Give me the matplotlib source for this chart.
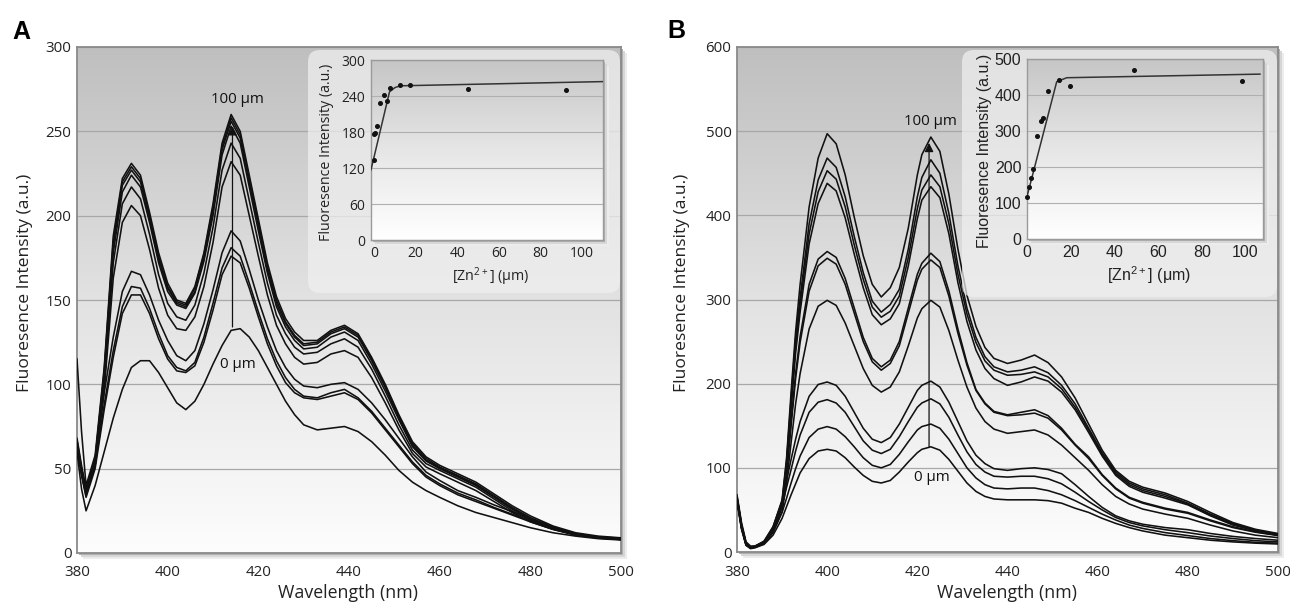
import numpy as np
import matplotlib
matplotlib.use("Agg")
import matplotlib.pyplot as plt
from matplotlib.colors import LinearSegmentedColormap
from matplotlib.patches import FancyBboxPatch, Rectangle

plt.rcParams['font.family'] = ['Open Sans', 'DejaVu Sans']
plt.rcParams['mathtext.fontset'] = 'custom'
plt.rcParams['mathtext.rm'] = 'Open Sans'
plt.rcParams['mathtext.default'] = 'regular'

# ---------------- Panel A data (emission spectra) ----------------
wl_A = [380, 381, 382, 384, 386, 388, 390, 392, 394, 396,
        398, 400, 402, 404, 406, 408, 410, 412, 414, 416,
        418, 420, 422, 424, 426, 428, 430, 433, 436, 439,
        442, 445, 448, 451, 454, 457, 460, 464, 468, 472,
        476, 480, 485, 490, 495, 500]
A_c0 = [60, 38, 25, 40, 60, 80, 97, 110, 114, 114, 107, 98, 89, 85, 90, 100, 112, 123, 132, 133,
        128, 120, 110, 100, 90, 82, 76, 73, 74, 75, 72, 66, 58, 49, 42, 37, 33, 28, 24, 21,
        18, 15, 12, 10, 8.5, 7.7]
A_c1 = [63, 46, 33, 50, 85, 116, 142, 153, 153, 142, 127, 115, 108, 107, 111, 125, 144, 165, 176, 172,
        157, 140, 124, 111, 101, 95, 92, 91, 93, 95, 91, 83, 73, 63, 53, 45, 40, 34.5, 30.5, 26.5,
        22.5, 18.5, 14, 10.8, 9, 8]
A_c2 = [64, 47, 34, 52, 88, 120, 146, 158, 157, 145, 130, 117, 110, 108, 113, 128, 148, 169, 181, 176,
        160, 143, 127, 114, 104, 97, 93, 92, 95, 97, 92, 84, 74, 64, 54, 46, 41, 35.5, 31.5, 27,
        23, 19, 14.2, 11, 9.2, 8.2]
A_c3 = [65, 50, 38, 55, 95, 128, 155, 167, 165, 153, 138, 126, 117, 114, 120, 136, 156, 178, 191, 185,
        168, 150, 134, 120, 110, 103, 99, 98, 100, 101, 97, 89, 79, 68, 57, 48, 43, 37, 33, 28.5,
        24.5, 20, 15, 11.5, 9.5, 8.5]
A_c4 = [64, 47, 35, 52, 96, 163, 196, 206, 200, 180, 157, 141, 133, 132, 140, 158, 184, 217, 232, 224,
        200, 176, 153, 135, 124, 116, 112, 113, 118, 120, 116, 104, 89, 73, 59, 51, 47, 42, 37, 30.5,
        24, 18.5, 14, 10.5, 8.8, 8]
A_c5 = [65, 48, 36, 53, 100, 172, 207, 217, 210, 189, 165, 148, 140, 138, 147, 166, 193, 227, 243, 234,
        209, 184, 160, 141, 130, 122, 118, 119, 124, 127, 122, 109, 93, 76, 61, 53, 49, 44, 39, 32,
        25, 19.5, 14.5, 10.8, 9, 8.3]
A_c6 = [66, 49, 36, 54, 104, 178, 214, 224, 217, 196, 172, 155, 147, 145, 154, 173, 200, 236, 253, 243,
        217, 191, 166, 146, 134, 126, 121, 122, 128, 131, 126, 112, 96, 79, 63, 54.5, 50, 45, 40, 33,
        26, 20, 14.8, 11, 9.2, 8.5]
A_c7 = [67, 50, 37, 55, 106, 182, 218, 227, 220, 198, 174, 157, 148, 146, 155, 175, 203, 239, 256, 246,
        220, 194, 168, 148, 136, 128, 123, 124, 130, 133, 128, 114, 98, 80, 64, 55, 50.5, 45.5, 40.5, 33.5,
        26.5, 20.5, 15, 11, 9.3, 8.6]
A_c8 = [68, 52, 38, 56, 108, 185, 220, 229, 222, 200, 176, 158, 149, 147, 157, 177, 205, 241, 258, 248,
        222, 196, 170, 150, 137, 129, 124, 125, 131, 134, 129, 115, 99, 81, 65, 56, 51, 46, 41, 34,
        27, 21, 15.5, 11.5, 9.5, 8.8]
A_c9 = [115, 72, 40, 58, 110, 188, 222, 231, 224, 202, 178, 160, 150, 148, 158, 178, 207, 243, 260, 250,
        224, 198, 172, 152, 139, 131, 126, 126, 132, 135, 130, 116, 100, 82, 66, 57, 52, 47, 42, 35,
        28, 22, 16, 12, 10, 9]

# Panel A inset (titration)
zn_A = [0, 0, 0.5, 1.3, 2.9, 4.8, 6.1, 7.7, 12.5, 17.3, 45, 92]
fi_A = [133, 177, 178, 190, 228, 242, 232, 254, 258, 258, 251, 250]
fitA_x = [-1.5, 7.4, 10, 12.5, 110]
fitA_y = [117, 247, 254, 257, 264]

# ---------------- Panel B data (emission spectra) ----------------
wl_B = [380, 381, 382, 383, 384, 386, 388, 390, 391, 392, 393, 394,
        396, 398, 400, 402, 404, 406, 408, 410, 412, 414, 416, 418, 420,
        421, 423, 425, 427, 429, 431, 433, 435, 437,
        440, 443, 446, 449, 452, 455, 458, 461, 464, 467, 470,
        475, 480, 485, 490, 495, 500]
B_c0 = [60, 27, 8, 4, 5, 9, 20, 40, 54, 68, 81, 94,
        111, 120, 122, 120, 112, 101, 91, 84, 82, 85, 95, 107, 118,
        122, 125, 121, 110, 96, 82, 72, 66, 63,
        62, 62, 62, 61, 58, 52, 47, 40, 34, 29, 25,
        20, 17, 14, 12, 10.5, 9.5]
B_c1 = [61, 28, 8, 4.5, 5.5, 10, 24, 47, 64, 82, 99, 114,
        136, 146, 149, 146, 137, 125, 112, 103, 100, 104, 116, 131, 145,
        149, 152, 147, 134, 117, 100, 88, 80, 76,
        75, 76, 76, 73, 68, 61, 53, 45, 38, 32, 28,
        23, 19.5, 16, 13.5, 11.5, 10.5]
B_c2 = [62, 29, 9, 5, 6, 11, 27, 55, 77, 98, 120, 139,
        166, 178, 181, 177, 166, 149, 132, 121, 117, 122, 137, 155, 172,
        177, 182, 176, 160, 139, 119, 104, 95, 90,
        89, 90, 90, 87, 81, 71, 60, 50, 41, 35, 31,
        26.5, 23, 19, 16, 13.5, 12]
B_c3 = [62, 29, 9, 5, 6, 12, 30, 60, 85, 110, 134, 155,
        185, 199, 202, 198, 185, 166, 147, 134, 130, 136, 152, 172, 192,
        198, 203, 196, 178, 155, 132, 115, 105, 99,
        97, 99, 100, 98, 93, 80, 66, 53, 43, 37, 33,
        29, 26.5, 22, 18.5, 16, 14]
B_c4 = [63, 30, 9, 5, 6, 10, 23, 48, 82, 130, 176, 212,
        265, 292, 299, 293, 272, 245, 218, 198, 190, 196, 214, 245, 278,
        289, 299, 291, 263, 228, 196, 171, 155, 146,
        141, 143, 145, 139, 127, 112, 97, 80, 66, 57, 51,
        45, 40, 32, 25, 20, 17]
B_c5 = [64, 31, 10, 5, 6, 11, 25, 53, 92, 150, 206, 249,
        310, 340, 349, 342, 318, 284, 250, 226, 216, 224, 245, 284, 323,
        336, 347, 338, 304, 260, 222, 192, 176, 166,
        162, 163, 165, 159, 145, 127, 111, 91, 75, 64, 58,
        51, 46, 37, 29, 23.5, 19.5]
B_c6 = [64, 31, 10, 5, 6, 11, 26, 55, 95, 155, 212, 256,
        318, 348, 357, 350, 325, 290, 255, 230, 220, 228, 250, 290, 330,
        343, 355, 345, 310, 265, 225, 193, 177, 167,
        163, 166, 169, 162, 147, 128, 113, 92, 76, 65, 59,
        52, 47, 38, 30, 24, 20]
B_c7 = [64, 31, 10, 5, 6, 11, 26, 56, 100, 170, 236, 285,
        366, 414, 438, 429, 397, 354, 314, 282, 270, 277, 295, 340, 396,
        418, 434, 421, 378, 320, 274, 240, 218, 206,
        198, 202, 208, 203, 190, 169, 142, 114, 91, 78, 71,
        64, 56, 43, 32, 25, 20]
B_c8 = [65, 32, 10, 6, 7, 12, 27, 58, 104, 176, 245, 294,
        378, 428, 453, 443, 410, 365, 324, 291, 279, 286, 304, 350, 408,
        430, 448, 434, 390, 330, 283, 249, 227, 216,
        210, 211, 214, 208, 194, 172, 145, 116, 93, 80, 73,
        66, 57, 44, 33, 25.5, 20.5]
B_c9 = [66, 33, 11, 6, 7, 12, 28, 60, 108, 182, 254, 302,
        390, 442, 468, 457, 422, 375, 332, 298, 285, 294, 312, 360, 422,
        445, 466, 450, 402, 340, 290, 255, 232, 220,
        214, 216, 220, 213, 198, 176, 147, 118, 95, 82, 75,
        68, 58, 45, 34, 26, 21]
B_c10 = [68, 35, 12, 7, 7, 13, 30, 62, 112, 190, 262, 318,
         410, 468, 497, 485, 448, 398, 352, 318, 303, 314, 338, 385, 448,
         472, 493, 476, 425, 360, 305, 268, 243, 230,
         224, 228, 234, 225, 208, 183, 152, 121, 97, 84, 77,
         70, 60, 47, 35, 27, 22]

# Panel B inset (titration)
zn_B = [0, 0.9, 1.8, 2.9, 4.7, 6.5, 7.5, 9.8, 14.6, 19.7, 49, 98.3]
fi_B = [116, 144, 170, 194, 286, 329, 335, 411, 442, 425, 469, 439]
fitB_x = [0, 13.6, 18.2, 106.6]
fitB_y = [118, 437, 448, 458]

# annotation arrows: (x, y_start, y_tip)
arrow_A = (414.3, 134, 253)
arrow_B = (422.6, 125, 486)

A_curves = [A_c0, A_c1, A_c2, A_c3, A_c4, A_c5, A_c6, A_c7, A_c8, A_c9]
B_curves = [B_c0, B_c1, B_c2, B_c3, B_c4, B_c5, B_c6, B_c7, B_c8, B_c9, B_c10]

W, H = 1290, 604
fig = plt.figure(figsize=(W / 100, H / 100), dpi=100)


def fbox(x0, y0, x1, y1):
    """pixel box (top-left origin) -> figure fraction rect"""
    return [x0 / W, 1 - y1 / H, (x1 - x0) / W, (y1 - y0) / H]


bg_main = LinearSegmentedColormap.from_list('bgm', ['#fdfdfd', '#e2e2e2', '#bfbfbf'])
bg_inset = LinearSegmentedColormap.from_list('bgi', ['#ffffff', '#e6e6e6', '#c6c6c6'])
grad = np.linspace(0, 1, 256).reshape(-1, 1)


def shadow(x0, y0, x1, y1, z):
    for off, col in [(6, '#ececec'), (4, '#d6d6d6'), (2, '#b0b0b0')]:
        r = Rectangle(((x0 + off) / W, 1 - (y1 + off) / H), (x1 - x0) / W, (y1 - y0) / H,
                      transform=fig.transFigure, facecolor=col, edgecolor='none', zorder=z)
        fig.add_artist(r)


def main_panel(rect_px, wl, curves, ymax, ystep, arrow, lab_top, lab_bot):
    shadow(*rect_px, z=-1)
    ax = fig.add_axes(fbox(*rect_px))
    ax.imshow(grad, extent=[380, 500, 0, ymax], aspect='auto', origin='lower',
              cmap=bg_main, zorder=0, interpolation='bicubic')
    for c in curves:
        ax.plot(wl, c, color='#111111', lw=1.15, zorder=3, solid_joinstyle='round')
    ax.set_xlim(380, 500)
    ax.set_ylim(0, ymax)
    ax.set_xticks(range(380, 501, 20))
    ax.set_yticks(range(0, ymax + 1, ystep))
    ax.yaxis.grid(True, color='#a8a8a8', lw=0.9)
    ax.set_axisbelow(True)
    ax.tick_params(length=0, labelsize=10.8, colors='#222222')
    ax.tick_params(axis='x', pad=9)
    ax.tick_params(axis='y', pad=4)
    for s in ax.spines.values():
        s.set_color('#8a8a8a')
        s.set_linewidth(1.3)
    x, y0, y1 = arrow
    ax.annotate('', xy=(x, y1), xytext=(x, y0),
                arrowprops=dict(arrowstyle='-|>', color='#111111', lw=0.9,
                                mutation_scale=13, shrinkA=0, shrinkB=0), zorder=4)
    ax.text(lab_top[0], lab_top[1], '100 μm', ha='center', va='center', fontsize=10.8,
            color='#111111', zorder=5)
    ax.text(lab_bot[0], lab_bot[1], '0 μm', ha='center', va='center', fontsize=10.8,
            color='#111111', zorder=5)
    return ax


axA = main_panel((77, 47, 621, 553), wl_A, A_curves, 300, 50, arrow_A, (415.5, 269), (415.5, 112))
axB = main_panel((737, 47, 1278, 552), wl_B, B_curves, 600, 100, arrow_B, (422.8, 511), (423.2, 88))

# axis titles
fig.text(25 / W, 1 - 283 / H, 'Fluoresence Intensity (a.u.)', rotation=90, ha='center', va='center',
         fontsize=12.6, color='#222222')
fig.text(682 / W, 1 - 283 / H, 'Fluoresence Intensity (a.u.)', rotation=90, ha='center', va='center',
         fontsize=12.6, color='#222222')
fig.text(348 / W, 1 - 593 / H, 'Wavelength (nm)', ha='center', va='center', fontsize=12.8, color='#222222')
fig.text(1007 / W, 1 - 593 / H, 'Wavelength (nm)', ha='center', va='center', fontsize=12.8, color='#222222')

# panel letters
fig.text(12 / W, 1 - 39 / H, 'A', ha='left', va='baseline', fontsize=18, fontweight='bold',
         family=['Liberation Sans'])
fig.text(667 / W, 1 - 38 / H, 'B', ha='left', va='baseline', fontsize=18, fontweight='bold',
         family=['Liberation Sans'])


def inset_box(x0, y0, x1, y1):
    b = FancyBboxPatch((x0 / 100, (H - y1) / 100), (x1 - x0) / 100, (y1 - y0) / 100,
                       boxstyle='round,pad=0,rounding_size=0.12', transform=fig.dpi_scale_trans,
                       facecolor='#f0f0f0', edgecolor='none', alpha=0.72, zorder=1)
    fig.add_artist(b)


def inset(rect_px, zn, fi, fx, fy, xlim, ymax, ystep, family, tsize, lsize, ylab_x, xlab_y):
    shadow(*rect_px, z=2)
    ax = fig.add_axes(fbox(*rect_px))
    ax.set_zorder(3)
    ax.imshow(grad, extent=[xlim[0], xlim[1], 0, ymax], aspect='auto', origin='lower',
              cmap=bg_inset, zorder=0, interpolation='bicubic')
    ax.plot(fx, fy, color='#333333', lw=1.1, zorder=3)
    ax.plot(zn, fi, 'o', color='#111111', ms=2.6, zorder=4, clip_on=False)
    ax.set_xlim(*xlim)
    ax.set_ylim(0, ymax)
    ax.set_xticks(range(0, 101, 20))
    ax.set_yticks(range(0, ymax + 1, ystep))
    ax.yaxis.grid(True, color='#b0b0b0', lw=0.8)
    ax.set_axisbelow(True)
    ax.tick_params(length=0, labelsize=tsize, colors='#222222', pad=4)
    for lab in ax.get_xticklabels() + ax.get_yticklabels():
        lab.set_family(family)
    for s in ax.spines.values():
        s.set_color('#9a9a9a')
        s.set_linewidth(1.0)
    x0, y0, x1, y1 = rect_px
    fig.text(ylab_x / W, 1 - ((y0 + y1) / 2 + 2) / H, 'Fluoresence Intensity (a.u.)', rotation=90,
             ha='center', va='center', fontsize=lsize, color='#222222', family=family, zorder=5)
    fig.text(((x0 + x1) / 2 + 4) / W, 1 - xlab_y / H, '[Zn$^{2+}$] (μm)', ha='center', va='center',
             fontsize=lsize, color='#222222', family=family, zorder=5)
    return ax


inset_box(308, 50, 620, 293)
inset_box(962, 50, 1277, 297)
inset((371, 60, 603, 240), zn_A, fi_A, fitA_x, fitA_y, (-1.5, 110), 300, 60,
      ['Open Sans', 'DejaVu Sans'], 10, 10.3, 327, 277)
inset((1027, 59, 1263, 239), zn_B, fi_B, fitB_x, fitB_y, (0, 108), 500, 100,
      ['Liberation Sans', 'DejaVu Sans'], 11.5, 11.5, 984, 275)

fig.savefig('out.png', dpi=100)
